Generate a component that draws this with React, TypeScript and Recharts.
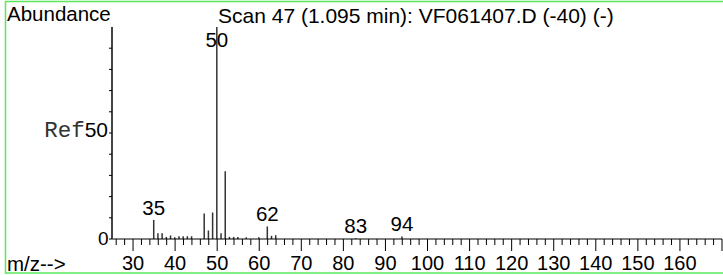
import { Bar, ComposedChart, LabelList, XAxis, YAxis } from "recharts";

const mz = [35, 36, 37, 38, 39, 40, 41, 42, 43, 44, 47, 48, 49, 50, 51, 52, 53, 54, 55, 57, 60, 62, 63, 64, 83, 94];
const abundance = [9, 2.7, 2.7, 1, 1.7, 0.8, 1.3, 1.3, 1.3, 1.3, 12, 4, 12.5, 100, 2.7, 32, 1, 1, 1, 0.8, 0.8, 5.9, 1.5, 1.8, 0.4, 1.2];
const labelledPeaks = [35, 50, 62, 83, 94];
const majorTicks = [30, 40, 50, 60, 70, 80, 90, 100, 110, 120, 130, 140, 150, 160, 170];
const yTicks = [0, 10, 20, 30, 40, 50, 60, 70, 80, 90];

const minorTicks: number[] = [];
for (let v = 26; v <= 170; v += 2) minorTicks.push(v);

const data = mz.map((m, i) => ({
  mz: m,
  abundance: abundance[i],
  label: labelledPeaks.includes(m) ? String(m) : "",
}));

const SANS = "'Liberation Sans', Arial, sans-serif";

function XTick(props: any) {
  const { x, y, payload } = props;
  const v = payload.value;
  const major = majorTicks.includes(v);
  return (
    <g>
      <line x1={x} x2={x} y1={y} y2={y + (major ? 12 : 6)} stroke="#000" strokeWidth={1} />
      {major && v <= 160 && (
        <text x={x} y={y + 31} textAnchor="middle" fontSize={20} fontFamily={SANS} fill="#000">
          {v}
        </text>
      )}
    </g>
  );
}

function YTick(props: any) {
  const { x, y, payload } = props;
  const v = payload.value;
  return (
    <g>
      <line x1={x - 3} x2={x} y1={y} y2={y} stroke="#000" strokeWidth={1} />
      {v === 0 && (
        <text x={x - 3.5} y={y + 6} textAnchor="end" fontSize={19} fontFamily={SANS} fill="#000">
          0
        </text>
      )}
      {v === 50 && (
        <text x={x - 4} y={y + 4} textAnchor="end" fontSize={21} fontFamily={SANS} fill="#000">
          <tspan fontFamily="'Liberation Mono', monospace" fontSize={22.5} fill="#333">Ref</tspan>
          <tspan>50</tspan>
        </text>
      )}
    </g>
  );
}

function PeakLabel(props: any) {
  const { x, y, width, value } = props;
  if (!value) return null;
  const ty = Math.max(Number(y) - 5, 47);
  return (
    <text x={Number(x) + Number(width) / 2} y={ty} textAnchor="middle" fontSize={20.5} fontFamily={SANS} fill="#000">
      {value}
    </text>
  );
}

export default function App() {
  return (
    <div style={{ position: "absolute", left: 0, top: 0, width: 723, height: 275, background: "#fff" }}>
      <ComposedChart width={723} height={275} data={data} margin={{ top: 27, right: 1, bottom: 0, left: 111 }}>
        <XAxis
          dataKey="mz"
          type="number"
          domain={[25, 170]}
          ticks={minorTicks}
          interval={0}
          tickSize={0}
          tickMargin={0}
          height={36}
          axisLine={{ stroke: "#000", strokeWidth: 1 }}
          tickLine={false}
          tick={(p: any) => <XTick {...p} />}
          allowDataOverflow
        />
        <YAxis
          type="number"
          domain={[0, 100]}
          ticks={yTicks}
          interval={0}
          width={1}
          tickSize={0}
          tickMargin={0}
          axisLine={{ stroke: "#444", strokeWidth: 2 }}
          tickLine={false}
          tick={(p: any) => <YTick {...p} />}
          allowDataOverflow
        />
        <Bar dataKey="abundance" fill="#333" barSize={1.5} isAnimationActive={false}>
          <LabelList dataKey="label" content={(p: any) => <PeakLabel {...p} />} />
        </Bar>
      </ComposedChart>
      <svg width={723} height={275} style={{ position: "absolute", left: 0, top: 0, pointerEvents: "none" }}>
        <rect x={5.5} y={1.5} width={730} height={271.5} fill="none" stroke="#5ae85a" strokeWidth={1.5} />
        <text x={7} y={20.5} fontSize={20.5} fontFamily={SANS} fill="#000">Abundance</text>
        <text x={218} y={22.5} fontSize={21} fontFamily={SANS} fill="#000">Scan 47 (1.095 min): VF061407.D (-40) (-)</text>
        <text x={7} y={270.5} fontSize={20.5} fontFamily={SANS} fill="#000">m/z--&gt;</text>
      </svg>
    </div>
  );
}
